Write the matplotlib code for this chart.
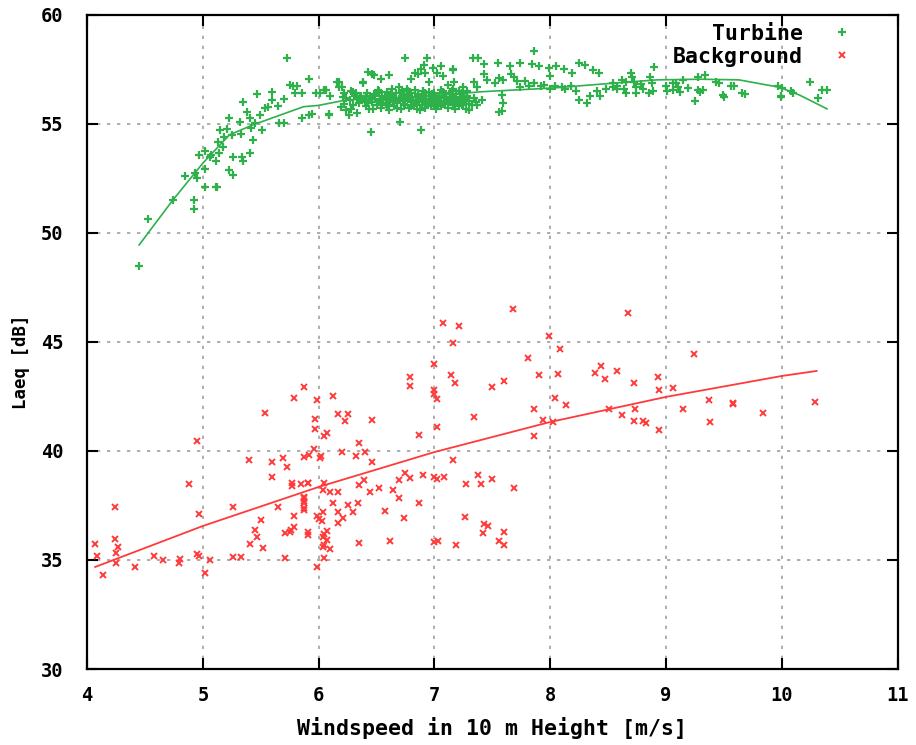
import matplotlib
matplotlib.use("Agg")
import matplotlib.pyplot as plt

# turbine measurements (windspeed m/s, Laeq dB)
turbine_x = [
    4.45, 4.53, 4.74, 4.92, 4.92, 4.85, 4.93, 4.95, 5.02, 5.02, 5.12, 5.11,
    4.97, 5.02, 5.06, 5.07, 5.11, 5.14, 5.13, 5.15, 5.18, 5.21, 5.23, 5.17,
    5.23, 5.26, 5.26, 5.25, 5.32, 5.33, 5.34, 5.35, 5.41, 5.38, 5.35, 5.41,
    5.42, 5.43, 5.45, 5.47, 5.49, 5.51, 5.54, 5.56, 5.60, 5.60, 5.65, 5.66,
    5.70, 5.70, 5.73, 5.75, 5.78, 5.81, 5.80, 5.86, 5.86, 5.92, 5.92, 5.98,
    6.01, 6.06, 6.09, 6.16, 6.18, 6.21, 6.19, 6.24, 6.26, 6.30, 6.33, 6.38,
    6.43, 6.45, 6.46, 5.94, 6.09, 6.05, 6.10, 6.18, 6.20, 6.22, 6.24, 6.28,
    6.31, 6.48, 6.51, 6.54, 6.61, 6.38, 6.36, 6.40, 6.59, 6.70, 6.75, 6.80,
    6.83, 6.86, 6.88, 6.91, 6.94, 6.92, 6.95, 6.99, 7.02, 7.06, 7.07, 7.12,
    7.16, 7.17, 6.88, 7.16, 7.33, 7.38, 7.43, 7.55, 7.65, 7.74, 7.86, 7.84,
    7.90, 7.99, 8.05, 8.00, 8.12, 8.19, 8.25, 8.30, 8.37, 8.42, 7.16, 7.21,
    7.25, 7.28, 7.34, 7.37, 7.43, 7.45, 7.52, 7.56, 7.59, 7.58, 7.59, 7.58,
    7.56, 7.66, 7.69, 7.71, 7.74, 7.78, 7.82, 7.86, 7.92, 7.95, 8.00, 8.04,
    8.10, 8.13, 8.18, 8.22, 8.25, 8.32, 8.34, 8.40, 8.43, 8.48, 8.54, 8.58,
    7.30, 7.37, 7.41, 8.54, 8.58, 8.62, 8.65, 8.64, 8.65, 8.70, 8.71, 8.72,
    8.74, 8.74, 8.78, 8.80, 8.86, 8.88, 8.89, 8.85, 8.90, 9.00, 9.01, 9.06,
    9.09, 9.10, 9.06, 9.12, 9.15, 9.19, 9.25, 9.28, 9.29, 9.32, 9.28, 9.34,
    9.43, 9.46, 9.49, 9.56, 9.59, 9.66, 9.97, 10.00, 9.99, 10.08, 10.10, 10.24,
    10.31, 10.35, 10.39, 9.50, 9.68, 9.99, 6.22, 6.27, 6.30, 6.33, 6.35, 6.37,
    6.28, 6.32,
    6.40, 6.41, 6.42, 6.43, 6.44, 6.46, 6.47, 6.48, 6.49, 6.50, 6.52, 6.53,
    6.54, 6.55, 6.56, 6.58, 6.59, 6.60, 6.61, 6.62, 6.63, 6.64, 6.65, 6.66,
    6.67, 6.68, 6.69, 6.70, 6.71, 6.72, 6.73, 6.74, 6.75, 6.76, 6.77, 6.78,
    6.79, 6.80, 6.81, 6.82, 6.83, 6.84, 6.85, 6.86, 6.87, 6.88, 6.89, 6.90,
    6.91, 6.92, 6.93, 6.94, 6.95, 6.96, 6.97, 6.98, 6.99, 7.00, 7.01, 7.02,
    7.03, 7.04, 7.05, 7.06, 7.07, 7.08, 7.09, 7.10, 7.11, 7.12, 7.13, 7.14,
    7.15, 7.16, 7.17, 7.18, 7.19, 7.20, 7.21, 7.22, 7.23, 7.24, 7.25, 7.26,
    7.27, 7.28, 7.30, 7.32, 7.34, 7.36,
    6.405, 6.435, 6.465, 6.505, 6.515, 6.545, 6.575, 6.605, 6.625, 6.645,
    6.675, 6.695, 6.715, 6.735, 6.755, 6.775, 6.795, 6.815, 6.835, 6.855,
    6.875, 6.895, 6.915, 6.935, 6.955, 6.975, 6.995, 7.015, 7.035, 7.055,
    7.075, 7.095, 7.115, 7.135, 7.155, 7.175, 7.195, 7.215, 7.235, 7.255,
    7.275, 7.295,
]
turbine_y = [
    48.50, 50.64, 51.51, 51.51, 51.08, 52.63, 52.74, 52.54, 52.92, 52.12, 52.12, 52.12,
    53.58, 53.76, 53.50, 53.58, 53.32, 53.66, 54.19, 54.72, 54.42, 54.76, 55.26, 53.96,
    52.89, 52.66, 53.50, 54.50, 55.11, 54.54, 53.50, 53.30, 53.66, 55.56, 56.02, 55.26,
    54.80, 54.27, 55.03, 56.36, 55.41, 54.72, 55.72, 55.79, 56.45, 56.10, 55.83, 55.06,
    56.13, 55.06, 58.01, 56.79, 56.74, 56.74, 56.44, 56.44, 55.26, 57.05, 55.41, 56.44,
    56.44, 56.56, 55.41, 56.94, 56.68, 56.25, 55.79, 55.64, 55.41, 56.48, 55.49, 56.90,
    57.40, 54.65, 57.30, 55.46, 55.46, 56.56, 56.28, 56.94, 56.71, 56.40, 56.18, 56.50,
    56.30, 57.25, 56.56, 57.05, 57.25, 56.87, 56.20, 56.00, 55.87, 55.11, 58.01, 57.05,
    57.33, 57.30, 57.51, 57.71, 58.01, 57.33, 56.90, 57.55, 57.33, 57.66, 57.20, 56.79,
    57.51, 56.90, 54.72, 57.48, 58.01, 58.01, 57.75, 57.81, 57.66, 57.81, 58.35, 57.75,
    57.66, 57.55, 57.66, 57.20, 57.51, 57.33, 57.81, 57.71, 57.48, 57.33, 56.60, 56.50,
    56.70, 56.50, 56.90, 56.70, 57.30, 57.00, 56.87, 57.10, 57.00, 56.33, 55.95, 55.60,
    55.56, 57.30, 57.15, 56.96, 56.70, 56.95, 56.72, 56.87, 56.72, 56.80, 56.60, 56.72,
    56.70, 56.60, 56.72, 56.50, 56.10, 55.95, 56.30, 56.50, 56.30, 56.60, 56.70, 56.60,
    55.64, 55.87, 56.10, 56.87, 56.72, 57.00, 56.90, 56.60, 56.40, 57.35, 57.17, 56.90,
    56.70, 56.40, 56.85, 56.60, 57.17, 56.87, 56.50, 56.40, 57.60, 56.74, 56.50, 56.87,
    56.87, 56.70, 56.55, 56.45, 57.00, 56.65, 56.03, 56.55, 56.45, 56.56, 57.17, 57.25,
    56.94, 56.87, 56.33, 56.74, 56.74, 56.41, 56.74, 56.65, 56.30, 56.50, 56.40, 56.90,
    56.21, 56.56, 56.56, 56.25, 56.36, 56.25, 55.90, 56.10, 55.85, 56.20, 55.95, 56.30,
    55.70, 56.40,
    56.10, 55.80, 56.40, 55.95, 56.25, 56.00, 55.70, 56.35, 56.15, 55.85, 56.50, 56.05,
    55.75, 56.30, 56.10, 55.90, 56.45, 56.20, 55.65, 56.00, 56.60, 56.30, 55.80, 56.10,
    56.40, 55.95, 56.70, 56.20, 55.70, 56.50, 56.05, 56.30, 55.85, 56.60, 56.15, 55.75,
    56.40, 56.00, 56.25, 55.90, 56.55, 56.10, 55.70, 56.35, 56.00, 56.20, 55.85, 56.50,
    56.10, 55.75, 56.30, 55.95, 56.45, 56.15, 55.80, 56.25, 56.00, 56.40, 55.70, 56.15,
    55.90, 56.30, 56.05, 55.80, 56.45, 56.20, 55.95, 56.35, 56.10, 55.75, 56.25, 56.00,
    56.50, 55.85, 56.20, 55.95, 56.35, 56.10, 55.80, 56.25, 56.00, 56.40, 55.90, 56.15,
    55.70, 56.30, 56.05, 55.85, 56.20, 56.00,
    56.30, 55.70, 56.20, 56.40, 56.00, 55.95, 56.25, 55.85, 56.35, 56.00,
    55.75, 56.15, 56.40, 55.90, 56.25, 56.50, 55.80, 56.10, 55.95, 56.30,
    55.65, 56.15, 56.40, 55.85, 56.05, 56.35, 55.80, 56.30, 56.10, 56.55,
    55.90, 56.20, 55.95, 56.40, 56.15, 55.70, 56.00, 56.50, 55.85, 56.30,
    56.05, 55.90,
]

# background measurements
background_x = [
    4.07, 4.09, 4.14, 4.24, 4.24, 4.27, 4.25, 4.25, 4.41, 4.58, 4.66, 4.79,
    4.80, 4.88, 4.95, 4.97, 4.95, 4.97, 5.02, 5.06, 5.26, 5.26, 5.33, 5.40,
    5.41, 5.45, 5.47, 5.50, 5.52, 5.54, 5.60, 5.60, 5.65, 5.69, 5.73, 5.71,
    5.71, 5.76, 5.77, 5.77, 5.79, 5.79, 5.79, 5.85, 5.87, 5.87, 5.87, 5.87,
    5.91, 5.91, 5.87, 5.92, 5.96, 5.97, 5.97, 5.99, 5.99, 5.99, 6.01, 6.05,
    6.05, 6.79, 6.79, 6.12, 6.17, 6.25, 6.23, 6.46, 6.07, 6.05, 6.35, 6.02,
    6.20, 6.32, 6.40, 6.46, 6.87, 6.75, 6.79, 6.69, 6.39, 6.35, 6.52, 6.64,
    6.69, 6.44, 5.91, 6.05, 6.04, 6.10, 6.17, 5.87, 5.87, 5.87, 6.12, 6.25,
    6.30, 6.34, 6.17, 6.21, 6.17, 6.04, 5.75, 6.00, 6.03, 6.07, 6.04, 5.91,
    6.07, 6.04, 6.10, 6.35, 6.62, 6.05, 6.57, 6.74, 6.87, 7.68, 7.07, 7.21,
    7.16, 7.00, 7.14, 7.18, 7.00, 7.00, 7.02, 7.50, 7.60, 7.81, 7.90, 7.99,
    8.08, 8.07, 8.04, 8.14, 7.86, 7.94, 8.02, 7.86, 7.34, 7.02, 6.90, 7.00,
    7.02, 7.08, 7.16, 7.38, 7.50, 7.27, 7.40, 7.69, 7.26, 7.43, 7.46, 7.42,
    7.60, 7.56, 7.60, 7.19, 7.00, 7.03, 8.67, 9.24, 8.44, 8.39, 8.47, 8.58,
    8.72, 8.93, 8.94, 9.06, 8.51, 8.73, 8.62, 8.72, 8.80, 8.83, 8.94, 9.15,
    9.37, 9.38, 9.58, 9.58, 9.84, 10.29,
]
background_y = [
    35.72, 35.18, 34.31, 37.45, 35.96, 35.61, 35.32, 34.86, 34.66, 35.18, 35.00, 34.85,
    35.03, 38.47, 40.46, 37.10, 35.28, 35.18, 34.39, 35.00, 37.45, 35.12, 35.12, 39.59,
    35.72, 36.38, 36.07, 36.83, 35.53, 41.76, 39.51, 38.82, 37.45, 39.66, 39.25, 36.23,
    35.08, 36.38, 38.55, 38.40, 42.45, 37.02, 36.53, 38.49, 42.95, 37.90, 37.70, 37.30,
    38.52, 36.30, 39.74, 39.82, 40.09, 41.45, 41.00, 42.34, 34.69, 37.00, 39.70, 36.20,
    35.70, 43.41, 42.98, 42.52, 41.68, 41.68, 41.39, 41.42, 40.81, 40.70, 40.38, 39.77,
    39.97, 39.77, 39.97, 39.51, 40.73, 39.00, 38.75, 38.67, 38.67, 38.44, 38.29, 38.21,
    37.86, 38.10, 38.55, 38.55, 38.21, 38.10, 38.10, 37.84, 37.60, 37.40, 37.60, 37.52,
    37.21, 37.60, 37.21, 36.91, 36.68, 37.21, 36.30, 36.87, 36.80, 36.35, 36.07, 36.15,
    35.90, 35.60, 35.50, 35.79, 35.87, 35.10, 37.25, 36.91, 37.60, 46.50, 45.88, 45.73,
    44.94, 43.99, 43.49, 43.13, 42.80, 42.60, 42.40, 42.95, 43.23, 44.25, 43.49, 45.29,
    44.68, 43.55, 42.45, 42.11, 41.93, 41.42, 41.32, 40.70, 41.57, 41.12, 38.90, 38.82,
    38.70, 38.82, 39.59, 38.90, 38.72, 38.47, 38.47, 38.29, 36.99, 36.64, 36.56, 36.22,
    36.30, 35.89, 35.69, 35.69, 35.81, 35.89, 46.31, 44.43, 43.90, 43.56, 43.30, 43.67,
    43.13, 43.38, 42.80, 42.88, 41.93, 41.93, 41.65, 41.39, 41.39, 41.30, 40.96, 41.93,
    42.34, 41.32, 42.14, 42.20, 41.73, 42.26,
]

# fitted curves
turbine_fit_x = [4.45, 4.74, 5.0, 5.23, 5.43, 5.67, 5.87, 6.0, 6.24, 6.5, 7.0, 7.42,
                 8.0, 8.5, 8.92, 9.3, 9.63, 9.98, 10.15, 10.39]
turbine_fit_y = [49.45, 51.5, 53.2, 54.5, 54.95, 55.41, 55.79, 55.85, 56.1, 56.15, 56.3, 56.48,
                 56.64, 56.85, 57.02, 57.05, 57.02, 56.68, 56.33, 55.69]
background_fit_x = [4.07, 5.0, 6.0, 7.0, 8.0, 9.0, 10.0, 10.3]
background_fit_y = [34.68, 36.56, 38.35, 39.95, 41.33, 42.48, 43.44, 43.67]

green = "#2eb04a"
red = "#ff3a3a"

plt.rcParams["font.family"] = ["DejaVu Sans Mono", "DejaVu Sans"]
plt.rcParams["font.weight"] = "bold"

fig = plt.figure(figsize=(9.16, 7.45), dpi=100)
ax = fig.add_axes([0.095, 0.102, 0.885, 0.878])

ax.plot(turbine_x, turbine_y, linestyle="none", marker="+", markersize=5.5,
        markeredgewidth=1.6, color=green, label="Turbine")
ax.plot(background_x, background_y, linestyle="none", marker="x", markersize=4.2,
        markeredgewidth=1.4, color=red, label="Background")
ax.plot(turbine_fit_x, turbine_fit_y, color=green, linewidth=1.2)
ax.plot(background_fit_x, background_fit_y, color=red, linewidth=1.3)

ax.set_xlim(4, 11)
ax.set_ylim(30, 60)
ax.set_xticks(range(4, 12))
ax.set_yticks(range(30, 61, 5))
ax.grid(True, color="#a0a0a0", linestyle=(0, (2, 4)), linewidth=1.2)
ax.set_axisbelow(True)
ax.tick_params(direction="in", length=8, width=1.5, top=True, right=True,
               labelsize=13.5)
ax.tick_params(axis="x", pad=12)
ax.tick_params(axis="y", pad=17)
for s in ax.spines.values():
    s.set_linewidth(1.6)

ax.set_xlabel("Windspeed in 10 m Height [m/s]", fontsize=15.5, fontweight="bold", labelpad=9)
ax.set_ylabel("Laeq [dB]", fontsize=12.5, fontweight="bold")
ax.yaxis.set_label_coords(-0.07, 0.47)

ax.legend(loc="upper right", bbox_to_anchor=(0.955, 1.0), frameon=False,
          markerfirst=False, handlelength=1.0, handletextpad=1.3,
          borderaxespad=0.0, labelspacing=0.15,
          prop={"family": "DejaVu Sans Mono", "weight": "bold", "size": 15.5})

fig.savefig("out.png", dpi=100)
